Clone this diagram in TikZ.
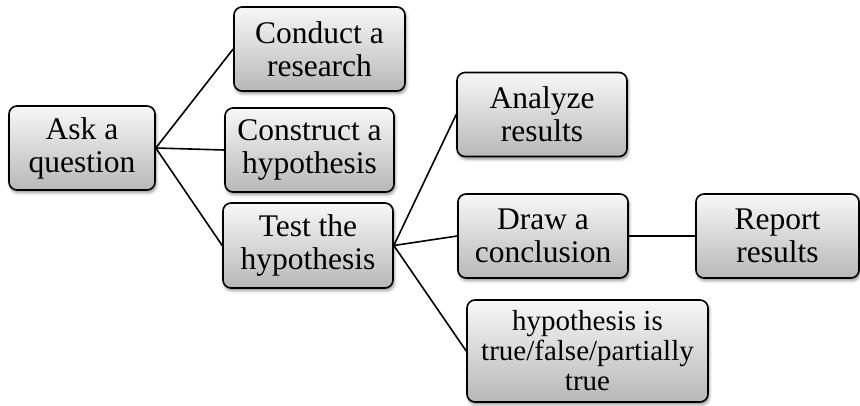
\documentclass[tikz,border=0pt]{standalone}
\usepackage{fontspec}
\setmainfont{Liberation Serif}
\usetikzlibrary{shadows.blur}

\tikzset{
  stepbox/.style={
    draw=black, line width=1.6pt, rounded corners=8pt,
    top color=white!97!black, bottom color=black!28,
    blur shadow={shadow xshift=1.2pt, shadow yshift=-2.5pt,
                 shadow blur radius=3pt, shadow opacity=45},
    inner sep=0pt, align=center,
    font=\fontsize{31.5}{33}\selectfont
  },
  link/.style={line width=1.6pt, black}
}

\begin{document}
\begin{tikzpicture}[x=1pt, y=-1pt]
  \useasboundingbox (0,0) rectangle (860,405);

  % first level
  \node[stepbox, minimum width=146pt, minimum height=84pt] (ask) at (82,148) {Ask a\\question};

  % second level
  \node[stepbox, minimum width=171pt, minimum height=84pt] (conduct) at (319.5,49) {Conduct a\\research};
  \node[stepbox, minimum width=169pt, minimum height=84pt] (construct) at (309.5,150) {Construct a\\hypothesis};
  \node[stepbox, minimum width=170pt, minimum height=85pt] (test) at (308,245.5) {Test the\\hypothesis};

  % third level
  \node[stepbox, minimum width=170pt, minimum height=84pt] (analyze) at (542,114.5) {Analyze\\results};
  \node[stepbox, minimum width=170pt, minimum height=84pt] (draw) at (543,236) {Draw a\\conclusion};
  \node[stepbox, minimum width=241pt, minimum height=102pt,
        font=\fontsize{29}{30}\selectfont] (hyp) at (587.5,351)
        {hypothesis is\\true/false/partially\\true};

  % fourth level
  \node[stepbox, minimum width=163pt, minimum height=84pt] (report) at (777.5,236) {Report\\results};

  % connectors
  \draw[link] (ask.east) -- (conduct.west);
  \draw[link] (ask.east) -- (construct.west);
  \draw[link] (ask.east) -- (test.west);
  \draw[link] (test.east) -- (analyze.west);
  \draw[link] (test.east) -- (draw.west);
  \draw[link] (test.east) -- (hyp.west);
  \draw[link] (draw.east) -- (report.west);
\end{tikzpicture}
\end{document}
